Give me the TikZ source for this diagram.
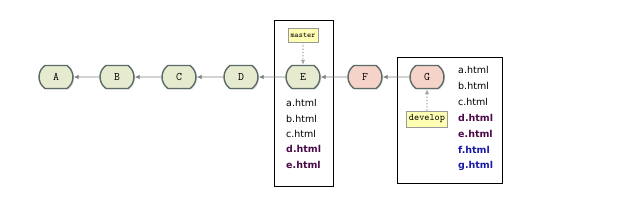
\documentclass[tikz,border=0pt]{standalone}
\usepackage{fontspec}
\newfontfamily\htmlfont{DejaVu Sans}
\usetikzlibrary{shapes.misc,arrows.meta,shadows}
\definecolor{cgreen}{HTML}{E6EBCF}
\definecolor{cred}{HTML}{F5D3C8}
\definecolor{cborder}{HTML}{5C6B68}
\definecolor{lbl}{HTML}{FFFFB4}
\definecolor{purp}{HTML}{4A0A4A}
\definecolor{blu}{HTML}{1A1AA6}
\tikzset{
  commit/.style={rounded rectangle, rounded rectangle arc length=110, draw=cborder, line width=1.4pt,
    minimum width=34pt, minimum height=23pt, inner xsep=0pt, inner ysep=0pt, text width=20pt, align=center, fill=cgreen,
    font=\ttfamily\fontsize{11.5}{12}\selectfont,
    drop shadow={opacity=0.2, shadow xshift=1.2pt, shadow yshift=-1.2pt}},
  newcommit/.style={commit, fill=cred},
  reflabel/.style={draw=gray!80, fill=lbl, line width=0.6pt,
    inner xsep=2.5pt, inner ysep=0pt, drop shadow={opacity=0.15, shadow xshift=0.8pt, shadow yshift=-0.8pt}},
  parent/.style={draw=gray, line width=0.9pt, -{Latex[length=5pt,width=4.5pt]}},
  refarrow/.style={draw=gray!70, dotted, line width=1.2pt, -{Latex[length=5pt,width=4.5pt]}},
  frame/.style={draw=black, line width=0.7pt},
  file/.style={anchor=west, inner sep=0pt, font=\htmlfont\fontsize{9.5}{10}\selectfont},
  oldfile/.style={file, text=purp, font=\htmlfont\bfseries\fontsize{9.5}{10}\selectfont},
  newfile/.style={file, text=blu, font=\htmlfont\bfseries\fontsize{9.5}{10}\selectfont}
}
\begin{document}
\begin{tikzpicture}[x=1pt,y=-1pt]
\useasboundingbox[fill=white] (0,0) rectangle (639,216);
\draw[frame] (274,20) rectangle (333,186);
\draw[frame] (397,57) rectangle (502,183);
\node[commit] (A) at (56,77) {A};
\node[commit] (B) at (117,77) {B};
\node[commit] (C) at (179,77) {C};
\node[commit] (D) at (241,77) {D};
\node[commit] (E) at (303,77) {E};
\node[newcommit] (F) at (365,77) {F};
\node[newcommit] (G) at (427,77) {G};
\draw[parent] (B) -- (A);
\draw[parent] (C) -- (B);
\draw[parent] (D) -- (C);
\draw[parent] (E) -- (D);
\draw[parent] (F) -- (E);
\draw[parent] (G) -- (F);
\node[reflabel, minimum height=14pt, font=\ttfamily\fontsize{7.8}{8}\selectfont] (master) at (303,35) {master};
\node[reflabel, minimum height=16pt, font=\ttfamily\fontsize{9.8}{10}\selectfont] (develop) at (427,119) {develop};
\draw[refarrow] (master) -- (E);
\draw[refarrow] (develop) -- (G);
\node[file] (e1) at (286,103) {a.html};
\node[file] (e2) at (286,119) {b.html};
\node[file] (e3) at (286,134) {c.html};
\node[oldfile] (e4) at (286,149) {d.html};
\node[oldfile] (e5) at (286,165) {e.html};
\node[file] (g1) at (458,70) {a.html};
\node[file] (g2) at (458,86) {b.html};
\node[file] (g3) at (458,102) {c.html};
\node[oldfile] (g4) at (458,118) {d.html};
\node[oldfile] (g5) at (458,134) {e.html};
\node[newfile] (g6) at (458,150) {f.html};
\node[newfile] (g7) at (458,166) {g.html};
\end{tikzpicture}
\end{document}
